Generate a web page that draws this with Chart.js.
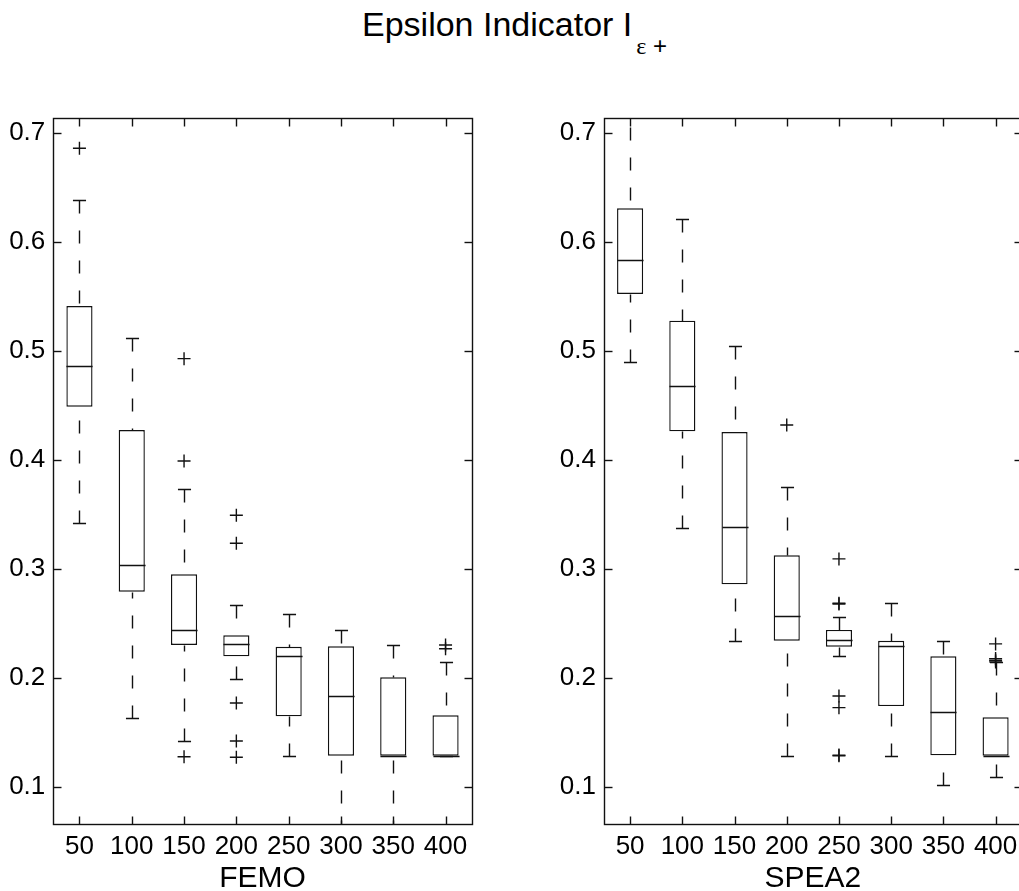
<!DOCTYPE html>
<html>
<head>
<meta charset="utf-8">
<script src="https://cdn.jsdelivr.net/npm/chart.js@4.4.1/dist/chart.umd.min.js"></script>
<style>
  html, body { margin: 0; padding: 0; background: #fff; }
  body { width: 1019px; height: 891px; overflow: hidden; position: relative; }
  #title { position: absolute; left: 362px; top: 7px; font-family: "Liberation Sans", Arial, sans-serif;
           font-size: 34px; line-height: 34px; color: #000; white-space: nowrap; }
  #title .sub { position: relative; top: 18px; font-size: 24px; margin-left: 4px; }
  #title .eps { font-family: "Liberation Serif", "DejaVu Serif", serif; }
  canvas { position: absolute; top: 0; }
  #c1 { left: 0; }
  #c2 { left: 500px; }
</style>
</head>
<body>
<div id="title">Epsilon Indicator I<span class="sub"><span class="eps">ε</span> +</span></div>
<canvas id="c1" width="500" height="910"></canvas>
<canvas id="c2" width="530" height="910"></canvas>
<script>
// ---- data ----
const categories = ['50', '100', '150', '200', '250', '300', '350', '400'];
const yTicks = [0.1, 0.2, 0.3, 0.4, 0.5, 0.6, 0.7];
const yTickLabels = ['0.1', '0.2', '0.3', '0.4', '0.5', '0.6', '0.7'];
const yMin = 0.0655;
const yMax = 0.7132;

// FEMO
const femoLow     = [0.3416, 0.1627, 0.1419, 0.1991, 0.1279, 0.0300, 0.0300, 0.1284];
const femoQ1      = [0.4486, 0.2789, 0.2300, 0.2196, 0.1646, 0.1284, 0.1284, 0.1284];
const femoMedian  = [0.4860, 0.3031, 0.2438, 0.2312, 0.2196, 0.1835, 0.1284, 0.1284];
const femoQ3      = [0.5410, 0.4272, 0.2949, 0.2389, 0.2284, 0.2288, 0.2004, 0.1655];
const femoHigh    = [0.6383, 0.5120, 0.3731, 0.2664, 0.2582, 0.2438, 0.2297, 0.2147];
const femoOutliers = [[0.6857], [], [0.4927, 0.3988, 0.1275], [0.3490, 0.3233, 0.1768, 0.1419, 0.1270],
                      [], [], [], [0.2300, 0.2266]];

// SPEA2
const speaLow     = [0.4899, 0.3376, 0.2339, 0.1279, 0.2200, 0.1279, 0.1013, 0.1092];
const speaQ1      = [0.5520, 0.4260, 0.2857, 0.2339, 0.2284, 0.1740, 0.1288, 0.1284];
const speaMedian  = [0.5829, 0.4679, 0.3383, 0.2566, 0.2343, 0.2291, 0.1685, 0.1284];
const speaQ3      = [0.6306, 0.5275, 0.4254, 0.3123, 0.2438, 0.2339, 0.2196, 0.1637];
const speaHigh    = [0.7600, 0.6211, 0.5040, 0.3752, 0.2554, 0.2685, 0.2339, 0.2140];
const speaOutliers = [[], [], [], [0.4318], [0.3090, 0.2683, 0.2676, 0.1832, 0.1725, 0.1290, 0.1284],
                      [], [], [0.2310, 0.2175, 0.2160, 0.2145]];

const FONT = '"Liberation Sans", Arial, sans-serif';
const LINE = '#111';
const LW = 1.4;

function boxPlugin(low, med, high) {
  return {
    id: 'boxExtras',
    afterDatasetsDraw(chart) {
      const { ctx, chartArea: a, scales: { x, y } } = chart;
      const step = x.getPixelForValue(1) - x.getPixelForValue(0);
      const half = step * 0.25, capHalf = step * 0.125;
      const py = v => Math.round(y.getPixelForValue(v)) + 0.5;
      const seg = (x1, y1, x2, y2) => { ctx.beginPath(); ctx.moveTo(x1, y1); ctx.lineTo(x2, y2); ctx.stroke(); };
      ctx.save();
      ctx.beginPath();
      ctx.rect(a.left, a.top, a.right - a.left, a.bottom - a.top);
      ctx.clip();
      ctx.strokeStyle = LINE;
      ctx.lineWidth = LW;
      categories.forEach((c, i) => {
        const cx = Math.round(x.getPixelForValue(i)) + 0.5;
        const q1 = chart.data.datasets[0].data[i][0];
        const q3 = chart.data.datasets[0].data[i][1];
        // median
        seg(cx - half, py(med[i]), cx + half, py(med[i]));
        // caps
        seg(cx - capHalf, py(high[i]), cx + capHalf, py(high[i]));
        seg(cx - capHalf, py(low[i]), cx + capHalf, py(low[i]));
        // dashed whiskers
        ctx.setLineDash([13, 17]);
        if (high[i] > q3) seg(cx, py(high[i]), cx, py(q3));
        if (low[i] < q1) seg(cx, py(low[i]), cx, py(q1));
        ctx.setLineDash([]);
      });
      ctx.restore();

      // frame and inward ticks
      ctx.save();
      ctx.strokeStyle = LINE;
      ctx.lineWidth = LW;
      const L = Math.round(a.left) + 0.5, R = Math.round(a.right) + 0.5;
      const T = Math.round(a.top) + 0.5, B = Math.round(a.bottom) + 0.5;
      ctx.strokeRect(L, T, R - L, B - T);
      const tl = 8;
      yTicks.forEach(v => {
        const yy = py(v);
        seg(L, yy, L + tl, yy);
        seg(R - tl, yy, R, yy);
      });
      categories.forEach((c, i) => {
        const xx = Math.round(x.getPixelForValue(i)) + 0.5;
        seg(xx, B, xx, B - tl);
        seg(xx, T, xx, T + tl);
      });
      ctx.restore();
    }
  };
}

function makeChart(id, q1, med, q3, low, high, outliers, name, yWidth, padRight) {
  const outlierPoints = [];
  outliers.forEach((arr, i) => arr.forEach(v => outlierPoints.push({ x: categories[i], y: v })));
  return new Chart(document.getElementById(id), {
    type: 'bar',
    data: {
      labels: categories,
      datasets: [
        {
          type: 'bar',
          data: q1.map((v, i) => [v, q3[i]]),
          backgroundColor: '#fff',
          borderColor: LINE,
          borderWidth: LW,
          borderSkipped: false,
          categoryPercentage: 1,
          barPercentage: 0.5
        },
        {
          type: 'line',
          data: outlierPoints,
          showLine: false,
          pointStyle: 'cross',
          pointRadius: 6.5,
          pointBorderWidth: LW,
          pointBorderColor: LINE,
          pointBackgroundColor: LINE,
          clip: false
        }
      ]
    },
    options: {
      responsive: false,
      animation: false,
      devicePixelRatio: 1,
      events: [],
      layout: { padding: { top: 118.3, right: padRight, left: 0, bottom: 0 } },
      plugins: { legend: { display: false }, tooltip: { enabled: false }, title: { display: false } },
      scales: {
        x: {
          type: 'category',
          offset: true,
          grid: { display: false, drawTicks: false },
          border: { display: false },
          ticks: { color: '#000', font: { family: FONT, size: 26 }, padding: 7, maxRotation: 0, autoSkip: false },
          title: { display: true, text: name, color: '#000', font: { family: FONT, size: 30 }, padding: { top: 0, bottom: 13 } },
          afterFit: s => { s.height = 910 - 824.3; }
        },
        y: {
          min: yMin,
          max: yMax,
          grid: { display: false, drawTicks: false },
          border: { display: false },
          afterBuildTicks: s => { s.ticks = yTicks.map(v => ({ value: v })); },
          ticks: {
            color: '#000',
            font: { family: FONT, size: 26 },
            padding: 8,
            callback: v => yTickLabels[yTicks.indexOf(v)]
          },
          afterFit: s => { s.width = yWidth; }
        }
      }
    },
    plugins: [boxPlugin(low, med, high)]
  });
}

makeChart('c1', femoQ1, femoMedian, femoQ3, femoLow, femoHigh, femoOutliers, 'FEMO', 53.3, 28.3);
makeChart('c2', speaQ1, speaMedian, speaQ3, speaLow, speaHigh, speaOutliers, 'SPEA2', 104, 8.3);
</script>
</body>
</html>
